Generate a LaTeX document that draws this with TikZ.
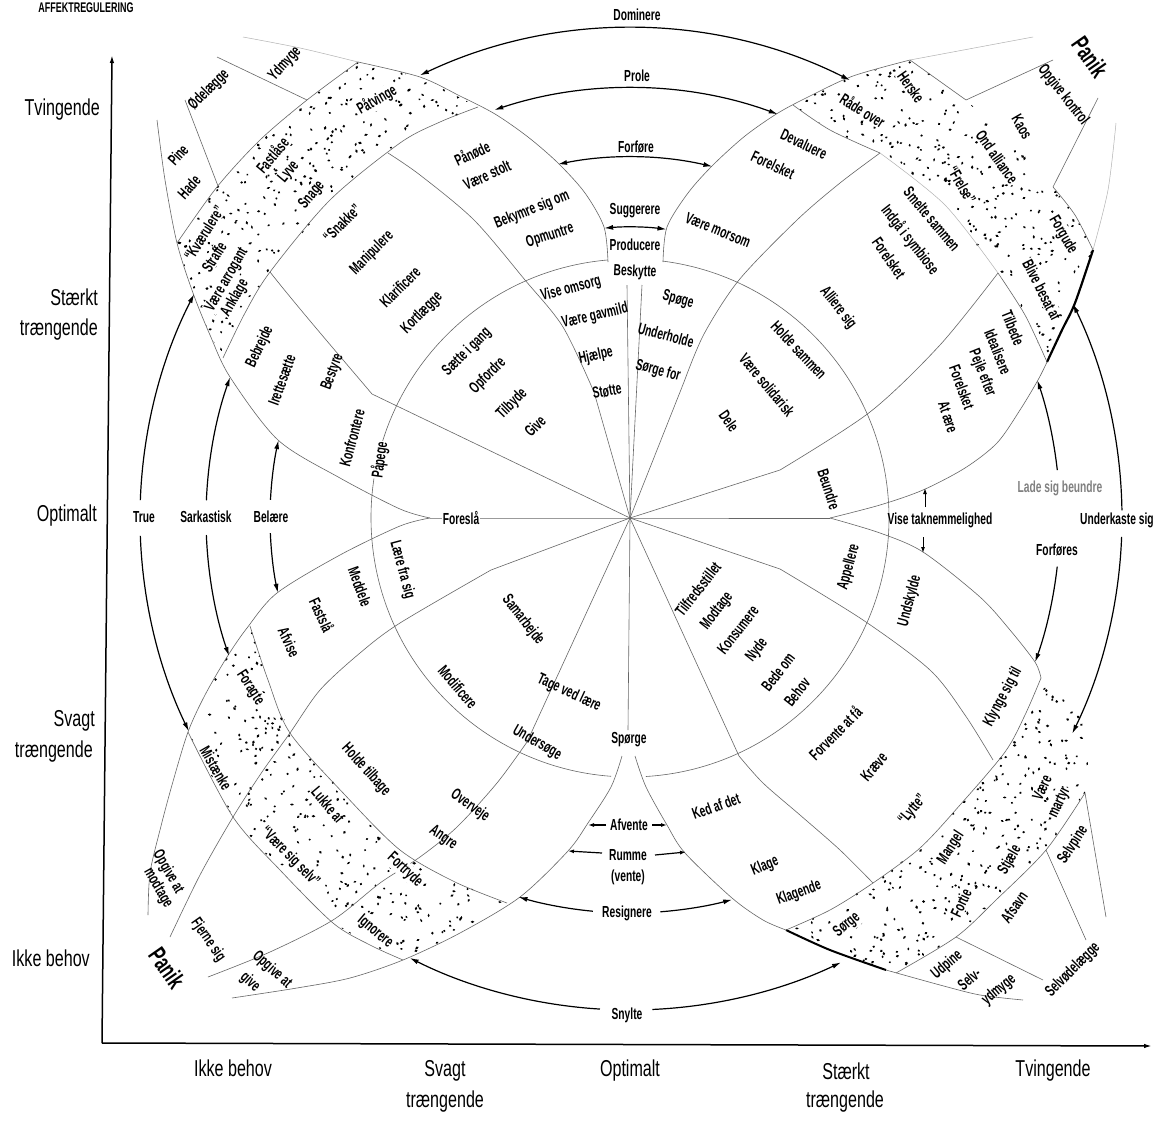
\documentclass[tikz,border=0pt]{standalone}
\usepackage{fontspec}
\setmainfont{Liberation Sans}[FakeStretch=0.7]
\newfontfamily\labfont{Liberation Sans}[FakeStretch=0.64]
\usetikzlibrary{arrows.meta,calc}
\newcommand\carc[4]{\draw[arr,#4] ($(C)+(-#1:#3)$) arc[start angle=-#1, end angle=-#2, radius=#3];}
\newcommand\dotsin[5]{%
  \foreach \i in {1,...,#5}{%
    \pgfmathsetmacro\dx{#1+#3*rnd}\pgfmathsetmacro\dy{#2+#4*rnd}%
    \pgfmathsetmacro\ra{1.1+0.9*rnd}\pgfmathsetmacro\rb{0.9+0.5*rnd}\pgfmathsetmacro\an{180*rnd}%
    \fill[rotate around={\an:(\dx,\dy)}] (\dx,\dy) ellipse[x radius=\ra, y radius=\rb];}}
\tikzset{
  ln/.style={draw=black!60, line width=0.6pt},
  lnf/.style={draw=black!30, line width=0.5pt},
  arr/.style={line width=1.2pt, draw=black},
  lab/.style={font=\labfont\bfseries\fontsize{16}{17}\selectfont, inner sep=0pt},
  blab/.style={lab, fill=white, inner sep=1pt},
  ax/.style={font=\fontsize{23}{25}\selectfont, inner sep=0pt},
  pan/.style={font=\labfont\bfseries\fontsize{25}{27}\selectfont, inner sep=0pt},
}
\begin{document}
\begin{tikzpicture}[x=1pt,y=-1pt,>={Latex[length=9pt,width=5pt]}]
\useasboundingbox (0,0) rectangle (1163,1122);
\fill[white] (0,0) rectangle (1163,1122);
\coordinate (C) at (630,518);

% ---------- dotted bands ----------
\pgfmathsetseed{2024}
\begin{scope}
\clip (223,358) -- (245,313) -- (270,272) -- (330,200) -- (400,143) -- (440,122) -- (478,107) -- (420,77) -- (358,62) -- (307,100) -- (260,140) -- (217,187) -- (177,243) -- (193,293) -- (210,335) -- cycle;
\dotsin{177}{62}{301}{296}{700}
\end{scope}
\begin{scope}
\clip (793,105) -- (830,130) -- (880,153) -- (945,205) -- (998,273) -- (1025,315) -- (1047,362) -- (1062,330) -- (1075,303) -- (1093,250) -- (1075,215) -- (1053,187) -- (1010,140) -- (966,100) -- (910,60) -- (853,76) -- (810,96) -- cycle;
\dotsin{793}{60}{300}{302}{700}
\end{scope}
\begin{scope}
\clip (250,626) -- (268,680) -- (290,733) -- (345,795) -- (400,850) -- (455,882) -- (507,903) -- (460,933) -- (403,960) -- (370,945) -- (333,923) -- (280,870) -- (233,817) -- (188,732) -- (205,695) -- (227,657) -- cycle;
\dotsin{188}{626}{320}{334}{700}
\end{scope}
\begin{scope}
\clip (1041,678) -- (1025,715) -- (1005,752) -- (960,805) -- (920,848) -- (873,883) -- (830,910) -- (786,930) -- (830,950) -- (886,970) -- (896,973) -- (956,937) -- (996,900) -- (1046,850) -- (1085,793) -- (1090,745) -- (1078,705) -- cycle;
\dotsin{786}{678}{304}{295}{700}
\end{scope}

% ---------- structure lines ----------
\draw[ln] ($(C)+(-94.9:259)$) arc[start angle=-94.9, end angle=-265.8, radius=259];
\draw[ln] ($(C)+(-273.5:259)$) arc[start angle=-273.5, end angle=-442.7, radius=259];
\draw[ln] (430,518) -- (C) -- (830,518);
\draw[ln] (C) -- (628,730);
\draw[ln] (C) -- (627,285);
\draw[ln] (C) -- (642,285);
\draw[ln] (C) -- (372,394) .. controls (345,362) and (300,310) .. (270,272);
\draw[ln] (C) -- plot[smooth] coordinates {(594,392) (563,327) (525,280) (474,220) (420,175) (388,153)};
\draw[ln] (C) -- plot[smooth] coordinates {(684,382) (704,334) (739,280) (797,220) (840,183) (880,153)};
\draw[ln] (C) -- plot[smooth] coordinates {(780,470) (870,412) (940,345) (998,273)};
\draw[ln] (C) -- plot[smooth] coordinates {(491,570) (400,623) (360,653) (320,690) (290,733) (262,772) (233,817) (200,875) (170,937)};
\draw[ln] (C) -- plot[smooth] coordinates {(527,742) (497,783) (457,827) (420,857) (380,883) (333,920) (270,952) (208,977)};
\draw[ln] (C) -- plot[smooth] coordinates {(780,569) (863,620) (930,670) (965,715) (993,760)};
\draw[ln] (C) -- plot[smooth] coordinates {(739,756) (763,783) (800,815) (840,850) (873,883)};
% petal edges
\draw[ln] plot[smooth] coordinates {(608,262) (604,227) (585,193) (558,163) (528,137) (495,114) (460,96) (420,77) (358,62)};
\draw[lnf] plot[smooth] coordinates {(358,62) (300,48) (243,37)};
\draw[ln] plot[smooth] coordinates {(663,262) (667,227) (688,193) (713,165) (745,136) (778,113) (810,96) (853,76) (910,60)};
\draw[lnf] (910,60) -- (1033,37);
\draw[ln] plot[smooth] coordinates {(430,518) (400,509) (340,478) (278,440) (230,377) (210,335) (193,293) (177,243) (165,180) (157,120)};
\draw[ln] plot[smooth] coordinates {(430,518) (400,526) (340,555) (277,593) (247,628) (227,657) (205,695) (188,732) (172,785) (160,830) (150,873) (148,915)};
\draw[ln] plot[smooth] coordinates {(622,756) (611,787) (588,823) (568,851) (520,897) (460,933) (403,960) (350,978) (297,988) (232,998)};
\draw[ln] plot[smooth] coordinates {(830,518) (880,505) (923,490) (965,468) (997,443) (1020,410) (1038,380) (1047,362)};
\draw[line width=2.2pt] plot[smooth] coordinates {(1047,362) (1062,330) (1075,303) (1093,250)};
\draw[lnf] plot[smooth] coordinates {(1093,250) (1108,190) (1116,123)};
\draw[ln] plot[smooth] coordinates {(830,518) (880,533) (923,552) (980,597) (1010,630) (1035,662) (1041,678)};
\draw[ln] plot[smooth] coordinates {(635,756) (646,787) (667,825) (685,853) (732,898) (763,920) (786,930)};
\draw[line width=2pt] plot[smooth] coordinates {(786,930) (830,950) (886,970)};
\draw[ln] plot[smooth] coordinates {(886,970) (940,985) (980,995) (1023,1000)};
% band boundaries
\draw[ln] plot[smooth] coordinates {(223,358) (245,313) (270,272) (330,200) (400,143) (440,122) (478,107)};
\draw[ln] plot[smooth] coordinates {(177,243) (217,187) (260,140) (307,100) (358,62)};
\draw[ln] plot[smooth] coordinates {(793,105) (830,130) (880,153)};
\draw[lnf] plot[smooth] coordinates {(880,153) (945,205) (998,273)};
\draw[ln] plot[smooth] coordinates {(998,273) (1025,315) (1047,362)};
\draw[ln] (910,60) -- (966,100);
\draw[ln] plot[smooth] coordinates {(1053,187) (1075,215) (1093,250)};
\draw[ln] plot[smooth] coordinates {(250,626) (268,680) (290,733) (345,795) (400,850) (455,882) (507,903)};
\draw[ln] plot[smooth] coordinates {(188,732) (233,817) (280,870) (333,923) (370,945) (403,960)};
\draw[ln] plot[smooth] coordinates {(1041,678) (1025,715) (1005,752) (960,805) (920,848) (873,883) (830,910) (786,930)};
\draw[ln] plot[smooth] coordinates {(896,973) (956,937) (996,900) (1046,850) (1085,793)};
% outer cells
\draw[ln] (218,186) -- (185,100);
\draw[ln] (307,100) -- (217,57);
\draw[ln] (966,100) -- (1053,60);
\draw[ln] (1098,98) -- (1053,187);
\draw[ln] (1085,793) -- (1106,917);
\draw[ln] (1046,850) -- (1086,940);
\draw[ln] (956,937) -- (1043,980);

% ---------- arrow arcs ----------
\carc{115.4}{63.3}{490}{<->}
\carc{108.4}{69.9}{430}{<->}
\carc{101.5}{76.8}{361}{<->}
\carc{95.1}{82.8}{291}{<->}
\carc{152.8}{177.9}{490}{<-} \carc{182.1}{205.8}{490}{->}
\carc{160.6}{177.6}{424}{<-} \carc{182.3}{199}{424}{->}
\carc{167.5}{177.1}{360}{<-} \carc{182.4}{192}{360}{->}
\carc{25.8}{0.9}{492}{<-} \carc{357.8}{334}{492}{->}
\carc{18.7}{6.4}{430}{<-} \carc{353.5}{340.4}{430}{->}
\carc{243.4}{266.5}{492}{<-} \carc{272.6}{295.4}{492}{->}
\carc{253.6}{264.6}{395}{<-} \carc{274.4}{285}{395}{->}
\begin{scope}[>={Latex[length=6pt,width=4pt]}]
\draw[arr,->] (602,853) -- (568,851);
\draw[arr,->] (655,855) -- (686,852);
\draw[arr,->] (606,825) -- (588,825);
\draw[arr,->] (652,825) -- (667,825);
\draw[line width=1pt,->] (925,507) -- (925,488);
\draw[line width=1pt,->] (923,537) -- (923,553);
\end{scope}

% ---------- axes ----------
\begin{scope}[>={Latex[length=8pt,width=4.5pt]}]
\draw[line width=1.5pt,->] (102,1043) -- (1152,1046);
\draw[line width=1.5pt,->] (102,1043) -- (112,55);
\end{scope}

% ---------- labels: top/center ----------
\node[lab] (dom) at (637,15) {Dominere};
\node[lab] (pro) at (637,76) {Prole};
\node[lab] (forf) at (636,147) {Forføre};
\node[lab] (sug) at (635,211) {Suggerere};
\node[lab] (prod) at (635,245) {Producere};
\node[lab,rotate=-3] (besk) at (635,272) {Beskytte};
\node[blab] (fores) at (461,518) {Foreslå};
\node[lab] (true) at (144,517) {True};
\node[lab] (sark) at (206,517) {Sarkastisk};
\node[lab] (bel) at (271,517) {Belære};
\node[lab] (spor) at (629,740) {Spørge};
\node[lab] (afv) at (629,825) {Afvente};
\node[lab] (rum) at (628,855) {Rumme};
\node[lab] (vent) at (628,877) {(vente)};
\node[lab] (resi) at (627,913) {Resignere};
\node[lab] (snyl) at (627,1015) {Snylte};
\node[lab] (vise) at (940,520) {Vise taknemmelighed};
\node[lab,text=black!50] (lade) at (1060,488) {Lade sig beundre};
\node[lab] (forfs) at (1057,550) {Forføres};
\node[lab,anchor=west] (underk) at (1080,520) {Underkaste sig};

% ---------- UL ----------
\node[lab,rotate=48] (ydm) at (285,64) {Ydmyge};
\node[lab,rotate=45] (odel) at (209,90) {Ødelægge};
\node[lab,rotate=48] (pine) at (178,155) {Pine};
\node[lab,rotate=48] (hade) at (189,187) {Hade};
\node[blab,rotate=30] (patv) at (377,100) {Påtvinge};
\node[blab,rotate=50] (fast) at (272,155) {Fastlåse};
\node[blab,rotate=50] (lyve) at (289,172) {Lyve};
\node[blab,rotate=50] (snage) at (312,195) {Snage};
\node[blab,rotate=58] (kvae) at (204,233) {“Kværulere”};
\node[blab,rotate=58] (straf) at (214,257) {Straffe};
\node[blab,rotate=60] (arro) at (227,280) {Være arrogant};
\node[blab,rotate=60] (ankl) at (235,298) {Anklage};
\node[lab,rotate=45] (snak) at (342,223) {“Snakke”};
\node[lab,rotate=45] (mani) at (372,253) {Manipulere};
\node[lab,rotate=45] (klar) at (400,287) {Klarificere};
\node[lab,rotate=45] (kort) at (422,313) {Kortlægge};
\node[lab,rotate=65] (bebr) at (260,347) {Bebrejde};
\node[lab,rotate=70] (iret) at (282,380) {Irettesætte};
\node[lab,rotate=70] (best) at (333,372) {Bestyre};
\node[lab,rotate=75] (konf) at (352,438) {Konfrontere};
\node[blab,rotate=82] (papg) at (380,460) {Påpege};
\node[lab,rotate=25] (pano) at (472,153) {Pånøde};
\node[lab,rotate=25] (stolt) at (487,175) {Være stolt};
\node[lab,rotate=22] (bekym) at (532,210) {Bekymre sig om};
\node[lab,rotate=18] (opmu) at (550,236) {Opmuntre};
\node[lab,rotate=45] (saet) at (467,352) {Sætte i gang};
\node[lab,rotate=45] (opfo) at (488,376) {Opfordre};
\node[lab,rotate=45] (tilb) at (512,404) {Tilbyde};
\node[lab,rotate=45] (give) at (535,426) {Give};
\node[lab,rotate=15] (visom) at (571,289) {Vise omsorg};
\node[lab,rotate=13] (gavm) at (595,316) {Være gavmild};
\node[lab,rotate=12] (hjae) at (596,356) {Hjælpe};
\node[lab,rotate=10] (stot) at (607,391) {Støtte};

% ---------- UR ----------
\node[lab,rotate=-15] (spog) at (678,300) {Spøge};
\node[lab,rotate=-15] (unde) at (666,335) {Underholde};
\node[lab,rotate=-15] (sorg) at (658,371) {Sørge for};
\node[lab,rotate=-47] (holds) at (799,350) {Holde sammen};
\node[lab,rotate=-50] (soli) at (767,385) {Være solidarisk};
\node[lab,rotate=-55] (dele) at (729,421) {Dele};
\node[lab,rotate=-72] (beun) at (829,489) {Beundre};
\node[lab,rotate=-22] (mors) at (718,230) {Være morsom};
\node[lab,rotate=-25] (deva) at (804,144) {Devaluere};
\node[lab,rotate=-25] (fors1) at (773,165) {Forelsket};
\node[lab,rotate=-50] (smel) at (932,219) {Smelte sammen};
\node[lab,rotate=-52] (indg) at (910,240) {Indgå i symbiose};
\node[lab,rotate=-55] (fors2) at (889,258) {Forelsket};
\node[lab,rotate=-52] (alli) at (838,308) {Alliere sig};
\node[lab,rotate=-68] (tilbe) at (1013,328) {Tilbede};
\node[lab,rotate=-68] (idea) at (998,352) {Idealisere};
\node[lab,rotate=-68] (pejl) at (982,373) {Pejle efter};
\node[lab,rotate=-70] (fors3) at (962,387) {Forelsket};
\node[lab,rotate=-72] (atae) at (948,417) {At ære};
\node[blab,rotate=-55] (hers) at (911,87) {Herske};
\node[blab,rotate=-32] (rade) at (863,110) {Råde over};
\node[blab,rotate=-55] (onda) at (997,157) {Ond alliance};
\node[blab,rotate=-60] (frel) at (962,185) {“Frelse”};
\node[blab,rotate=-60] (forg) at (1063,235) {Forgude};
\node[blab,rotate=-63] (blive) at (1042,290) {Blive besat af};
\node[lab,rotate=-60] (kaos) at (1022,127) {Kaos};
\node[lab,rotate=-52] (opgk) at (1063,95) {Opgive kontrol};
\node[pan,rotate=-55] (pan1) at (1090,57) {Panik};

% ---------- LL ----------
\node[lab,rotate=-75] (laer) at (402,570) {Lære fra sig};
\node[lab,rotate=-52] (sama) at (523,620) {Samarbejde};
\node[lab,rotate=-50] (modi) at (458,687) {Modificere};
\node[lab,rotate=-25] (tage) at (569,693) {Tage ved lære};
\node[lab,rotate=-30] (unds) at (537,743) {Undersøge};
\node[lab,rotate=-70] (medd) at (360,587) {Meddele};
\node[lab,rotate=-65] (fasts) at (322,615) {Fastslå};
\node[lab,rotate=-65] (afvi) at (289,642) {Afvise};
\node[lab,rotate=-48] (holdt) at (366,770) {Holde tilbage};
\node[lab,rotate=-35] (over) at (470,806) {Overveje};
\node[lab,rotate=-35] (angr) at (443,838) {Angre};
\node[blab,rotate=-57] (fora) at (250,688) {Foragte};
\node[blab,rotate=-60] (mist) at (216,768) {Mistænke};
\node[blab,rotate=-50] (lukk) at (328,805) {Lukke af};
\node[blab,rotate=-45] (vss) at (290,857) {“Være sig selv”};
\node[blab,rotate=-43] (fort) at (405,870) {Fortryde};
\node[blab,rotate=-40] (igno) at (375,932) {Ignorere};
\node[lab,rotate=-60] (opm1) at (168,872) {Opgive at};
\node[lab,rotate=-60] (opm2) at (158,888) {modtage};
\node[lab,rotate=-55] (fjer) at (208,940) {Fjerne sig};
\node[pan,rotate=-55] (pan2) at (167,968) {Panik};
\node[lab,rotate=-42] (opg1) at (272,970) {Opgive at};
\node[lab,rotate=-42] (opg2) at (250,982) {give};

% ---------- LR ----------
\node[lab,rotate=52] (tilf) at (698,589) {Tilfredsstillet};
\node[lab,rotate=52] (modt) at (717,611) {Modtage};
\node[lab,rotate=52] (kons) at (738,630) {Konsumere};
\node[lab,rotate=52] (nyde) at (757,650) {Nyde};
\node[lab,rotate=52] (bede) at (778,672) {Bede om};
\node[lab,rotate=52] (beho) at (797,692) {Behov};
\node[lab,rotate=75] (appe) at (849,567) {Appellere};
\node[lab,rotate=75] (undsk) at (910,601) {Undskylde};
\node[lab,rotate=62] (klyn) at (1003,697) {Klynge sig til};
\node[lab,rotate=45] (forv) at (835,733) {Forvente at få};
\node[lab,rotate=50] (krae) at (874,767) {Kræve};
\node[lab,rotate=50] (lytt) at (913,810) {“Lytte”};
\node[lab,rotate=20] (ked) at (716,806) {Ked af det};
\node[lab,rotate=22] (klag) at (765,866) {Klage};
\node[lab,rotate=20] (klagd) at (799,893) {Klagende};
\node[blab,rotate=40] (sorge) at (847,925) {Sørge};
\node[blab,rotate=57] (mang) at (951,848) {Mangel};
\node[blab,rotate=65] (forti) at (961,903) {Fortie};
\node[blab,rotate=60] (stja) at (1010,860) {Stjæle};
\node[blab,rotate=65] (vaer) at (1042,788) {Være};
\node[blab,rotate=65] (mart) at (1060,803) {martyr};
\node[lab,rotate=55] (afsa) at (1014,907) {Afsavn};
\node[lab,rotate=57] (selvp) at (1073,845) {Selvpine};
\node[lab,rotate=45] (selvo) at (1073,970) {Selvødelægge};
\node[lab,rotate=40] (udpi) at (947,965) {Udpine};
\node[lab,rotate=40] (selv) at (969,979) {Selv-};
\node[lab,rotate=40] (ydmy) at (999,990) {ydmyge};

% ---------- axis labels ----------
\node[font=\labfont\bfseries\fontsize{14}{15}\selectfont,inner sep=0pt] (title) at (86,8) {AFFEKTREGULERING};
\node[ax,anchor=east] (yt) at (100,110) {Tvingende};
\node[ax,anchor=east] (ys1) at (98,297) {Stærkt};
\node[ax,anchor=east] (ys2) at (98,330) {trængende};
\node[ax,anchor=east] (yo) at (97,516) {Optimalt};
\node[ax,anchor=east] (yv1) at (95,721) {Svagt};
\node[ax,anchor=east] (yv2) at (93,752) {trængende};
\node[ax,anchor=east] (yi) at (90,958) {Ikke behov};
\node[ax] (xi) at (233,1068) {Ikke behov};
\node[ax] (xv1) at (445,1071) {Svagt};
\node[ax] (xv2) at (445,1102) {trængende};
\node[ax] (xo) at (630,1071) {Optimalt};
\node[ax] (xs1) at (846,1071) {Stærkt};
\node[ax] (xs2) at (845,1102) {trængende};
\node[ax] (xt) at (1053,1071) {Tvingende};
\end{tikzpicture}
\end{document}
